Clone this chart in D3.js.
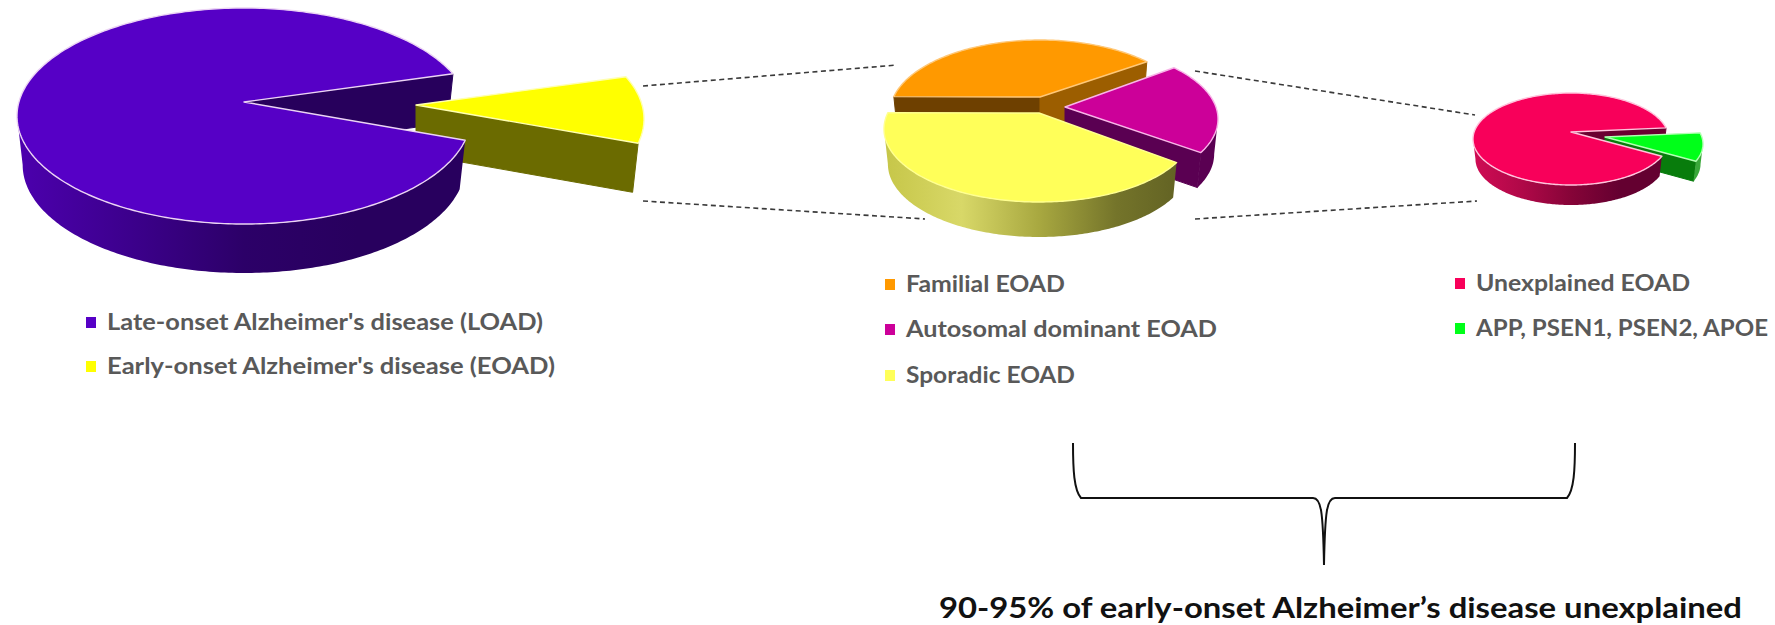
<!DOCTYPE html>
<html>
<head>
<meta charset="utf-8">
<script src="https://cdn.jsdelivr.net/npm/d3@7"></script>
<style>
    html, body { margin: 0; padding: 0; background: #fff; }
    svg { display: block; }
    text { font-family: Lato, "Open Sans", sans-serif; }
</style>
</head>
<body>
<script>
// Share of each group, in percent
var onsetNames = ["Late-onset Alzheimer's disease (LOAD)", "Early-onset Alzheimer's disease (EOAD)"];
var onsetValues = [90, 10];

var eoadNames = ["Familial EOAD", "Autosomal dominant EOAD", "Sporadic EOAD"];
var eoadValues = [34, 20, 46];

var geneNames = ["Unexplained EOAD", "APP, PSEN1, PSEN2, APOE"];
var geneValues = [90, 10];

var braceLabel = "90-95% of early-onset Alzheimer\u2019s disease unexplained";

var width = 1775, height = 625;

// walls narrow slightly towards the bottom of the disc
var lean = 0.025;

var rad = function (d) { return d * Math.PI / 180; };

var svg = d3.select("body").append("svg")
    .attr("width", width)
    .attr("height", height);

var defs = svg.append("defs");

var line = d3.line();

// Point on the tilted disc rim of a slice
function rimPoint(s, a) {
    return [s.cx + s.rx * Math.sin(a), s.cy - s.ry * Math.cos(a)];
}

function apexPoint(s) {
    return [s.cx, s.cy + s.apexDy];
}

function arcPoints(s, a0, a1) {
    var pts = d3.range(a0, a1, rad(1)).map(function (a) { return rimPoint(s, a); });
    pts.push(rimPoint(s, a1));
    return pts;
}

function down(s, p) {
    return [p[0] + (s.cx - p[0]) * lean, p[1] + s.depth];
}

// Cut face running from the centre to the rim at angle a
function drawFace(g, s, a, fill) {
    var apex = apexPoint(s), rim = rimPoint(s, a);
    g.append("path")
        .attr("d", line([apex, rim, down(s, rim), down(s, apex)]) + "Z")
        .attr("fill", fill)
        .attr("stroke", fill)
        .attr("stroke-width", 1);
}

function drawFaces(g, s, style) {
    if (Math.sin(s.startAngle) < 0) drawFace(g, s, s.startAngle, style.startFace || style.face);
    if (Math.sin(s.endAngle) > 0) drawFace(g, s, s.endAngle, style.face);
}

function drawShell(g, s, style, id) {
    // the rim wall only shows on the front half of the disc
    if (!style.noRim) {
        [-2 * Math.PI, 0, 2 * Math.PI].forEach(function (k) {
            var a0 = Math.max(s.startAngle, rad(90) + k),
                a1 = Math.min(s.endAngle, rad(270) + k);
            if (a1 <= a0) return;
            var top = arcPoints(s, a0, a1),
                bottom = top.map(function (p) { return down(s, p); }).reverse();
            g.append("path")
                .attr("d", line(top.concat(bottom)) + "Z")
                .attr("fill", "url(#" + id + ")");
        });
    }

    var outline = [apexPoint(s)].concat(arcPoints(s, s.startAngle, s.endAngle));
    g.append("path")
        .attr("d", line(outline) + "Z")
        .attr("fill", style.top)
        .attr("stroke", style.edge)
        .attr("stroke-width", 1.4)
        .attr("stroke-linejoin", "round");
}

function wallGradient(id, s, stops) {
    var grad = defs.append("linearGradient")
        .attr("id", id)
        .attr("gradientUnits", "userSpaceOnUse")
        .attr("x1", s.cx - s.rx).attr("y1", 0)
        .attr("x2", s.cx + s.rx).attr("y2", 0);
    stops.forEach(function (c, i) {
        grad.append("stop")
            .attr("offset", i / (stops.length - 1))
            .attr("stop-color", c);
    });
}

function drawPie(name, values, startDeg, disc, shifts, styles, order) {
    var arcs = d3.pie().sort(null).startAngle(rad(startDeg)).endAngle(rad(startDeg + 360))(values);
    var g = svg.append("g").attr("class", "pie " + name);

    var slices = arcs.map(function (d, i) {
        var shift = shifts[i];
        return {
            startAngle: d.startAngle,
            endAngle: d.endAngle,
            cx: disc.cx + (shift.dx || 0),
            cy: disc.cy + (shift.dy || 0),
            rx: shift.rx || disc.rx,
            ry: disc.ry,
            apexDy: shift.apexDy === undefined ? disc.apexDy : shift.apexDy,
            depth: disc.depth
        };
    });

    slices.forEach(function (s, i) {
        wallGradient(name + "-wall-" + i, s, styles[i].wall);
    });

    order.forEach(function (step) {
        var i = step[0], s = slices[i];
        if (step[1] !== "shell") drawFaces(g, s, styles[i]);
        if (step[1] !== "faces") drawShell(g, s, styles[i], name + "-wall-" + i);
    });
}

// LOAD vs EOAD
drawPie("onset", onsetValues, 103,
    {cx: 244, cy: 116, rx: 227, ry: 108, apexDy: -14, depth: 49},
    [{}, {dx: 172, dy: 3, rx: 228}],
    [
        {top: "#5600c6", edge: "#ecd4f4", face: "#27005c", wall: ["#4c00ae", "#3c008c", "#2c0068", "#28005e", "#28005e"]},
        {top: "#ffff00", edge: "#ffffb0", face: "#6b6b00", wall: ["#6b6b00", "#6b6b00"], noRim: true}
    ],
    [[0, "faces"], [1, "all"], [0, "shell"]]);

// Breakdown of EOAD
drawPie("eoad", eoadValues, -77,
    {cx: 1039, cy: 129, rx: 155, ry: 73, apexDy: -16, depth: 35},
    [{dx: 1, dy: -16, rx: 150}, {dx: 26, dy: -10, rx: 153, apexDy: -12}, {}],
    [
        {top: "#ff9900", edge: "#ffc878", face: "#9c5e00", startFace: "#6e4000", wall: ["#6e4000", "#6e4000"]},
        {top: "#cc0099", edge: "#f8b4e8", face: "#5a0052", wall: ["#5a0052", "#5a0052"]},
        {top: "#ffff59", edge: "#ffff90", face: "#8c8c30", wall: ["#c6c648", "#d8d868", "#a8a840", "#74742a", "#5e5e22"]}
    ],
    [[0, "all"], [1, "all"], [2, "all"]]);

// Known genes within EOAD
drawPie("gene", geneValues, 112,
    {cx: 1571, cy: 139, rx: 98, ry: 46, apexDy: -7, depth: 20},
    [{}, {dx: 34, dy: 5}],
    [
        {top: "#f8005a", edge: "#ffc4dc", face: "#6a0030", wall: ["#d00c54", "#b00848", "#860438", "#640030", "#640030"]},
        {top: "#00ff19", edge: "#b4ffb4", face: "#087c0c", wall: ["#3aa83a", "#3aa83a"]}
    ],
    [[0, "faces"], [1, "all"], [0, "shell"]]);

// Dashed connectors between the pies
var connectors = [
    [[643, 86], [897, 65]],
    [[643, 201], [925, 219]],
    [[1195, 71], [1475, 115]],
    [[1195, 219], [1477, 201]]
];

svg.append("g").selectAll("path")
    .data(connectors)
    .join("path")
    .attr("d", function (d) { return line(d); })
    .attr("fill", "none")
    .attr("stroke", "#3a3a3a")
    .attr("stroke-width", 1.6)
    .attr("stroke-dasharray", "5,3.5");

function drawLegend(names, colors, x, ys, lengths) {
    var row = svg.append("g").attr("class", "legend").selectAll("g")
        .data(names)
        .join("g")
        .attr("transform", function (d, i) { return "translate(" + x + "," + ys[i] + ")"; });

    row.append("rect")
        .attr("x", -21).attr("y", -5)
        .attr("width", 10).attr("height", 11)
        .attr("fill", function (d, i) { return colors[i]; });

    row.append("text")
        .attr("dy", "0.35em")
        .attr("font-size", 22)
        .attr("font-weight", 700)
        .attr("fill", "#595959")
        .attr("textLength", function (d, i) { return lengths[i]; })
        .attr("lengthAdjust", "spacingAndGlyphs")
        .text(function (d) { return d; });
}

drawLegend(onsetNames, ["#5600c6", "#ffff00"], 107, [322, 366], [436, 448]);
drawLegend(eoadNames, ["#ff9900", "#cc0099", "#ffff59"], 906, [284, 329, 375], [159, 311, 169]);
drawLegend(geneNames, ["#f8005a", "#00ff19"], 1476, [283, 328], [214, 292]);

// Brace gathering the two right-hand legends
var brace = d3.path();
brace.moveTo(1073, 443);
brace.bezierCurveTo(1073, 470, 1074, 490, 1081, 498);
brace.lineTo(1313, 498);
brace.bezierCurveTo(1321, 498, 1323, 510, 1324, 565);
brace.bezierCurveTo(1325, 510, 1327, 498, 1335, 498);
brace.lineTo(1567, 498);
brace.bezierCurveTo(1574, 490, 1575, 470, 1575, 443);

svg.append("path")
    .attr("d", brace.toString())
    .attr("fill", "none")
    .attr("stroke", "#111")
    .attr("stroke-width", 2);

svg.append("text")
    .attr("x", 939)
    .attr("y", 618)
    .attr("font-size", 29)
    .attr("font-weight", 700)
    .attr("fill", "#111")
    .attr("textLength", 803)
    .attr("lengthAdjust", "spacingAndGlyphs")
    .text(braceLabel);
</script>
</body>
</html>
